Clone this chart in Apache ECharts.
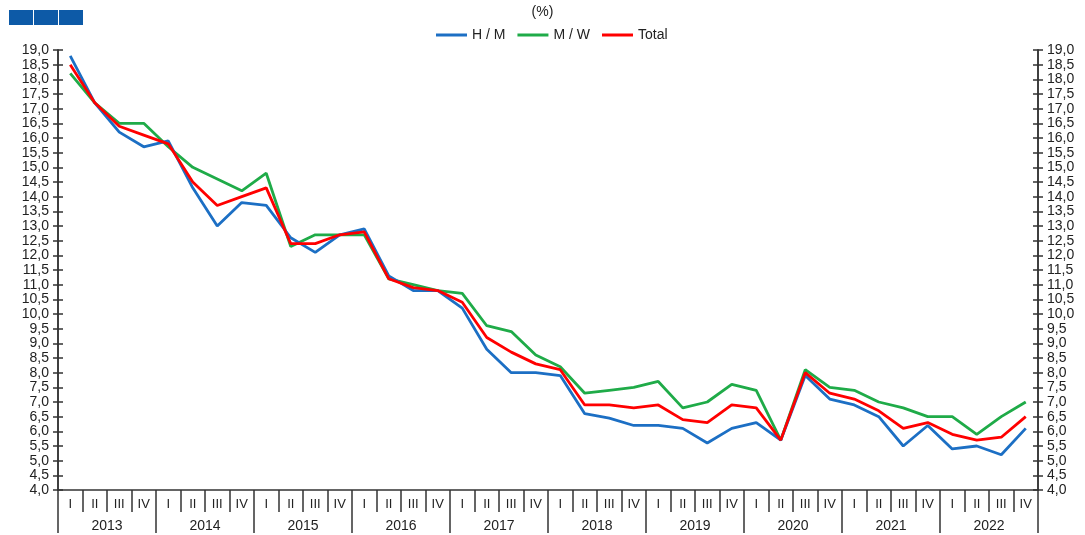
<!DOCTYPE html>
<html>
<head>
<meta charset="utf-8">
<script src="https://cdn.jsdelivr.net/npm/echarts@6/dist/echarts.min.js"></script>
<style>
html,body{margin:0;padding:0;background:#fff;}
#chart{width:1085px;height:535px;}
</style>
</head>
<body>
<div id="chart"></div>
<script>
const quarters = ['I','II','III','IV','I','II','III','IV','I','II','III','IV','I','II','III','IV','I','II','III','IV',
                  'I','II','III','IV','I','II','III','IV','I','II','III','IV','I','II','III','IV','I','II','III','IV'];
const years = ['2013','2014','2015','2016','2017','2018','2019','2020','2021','2022'];
const seriesNames = ['H / M','M / W','Total'];
const hm = [18.8,17.2,16.2,15.7, 15.9,14.3,13.0,13.8, 13.7,12.6,12.1,12.7, 12.9,11.3,10.8,10.8,
            10.2,8.8,8.0,8.0, 7.9,6.6,6.45,6.2, 6.2,6.1,5.6,6.1, 6.3,5.7,7.9,7.1, 6.9,6.5,5.5,6.2, 5.4,5.5,5.2,6.1];
const mw = [18.2,17.2,16.5,16.5, 15.7,15.0,14.6,14.2, 14.8,12.3,12.7,12.7, 12.7,11.2,11.0,10.8,
            10.7,9.6,9.4,8.6, 8.2,7.3,7.4,7.5, 7.7,6.8,7.0,7.6, 7.4,5.7,8.1,7.5, 7.4,7.0,6.8,6.5, 6.5,5.9,6.5,7.0];
const total = [18.5,17.2,16.4,16.1, 15.8,14.5,13.7,14.0, 14.3,12.4,12.4,12.7, 12.8,11.2,10.9,10.8,
            10.4,9.2,8.7,8.3, 8.1,6.9,6.9,6.8, 6.9,6.4,6.3,6.9, 6.8,5.7,8.0,7.3, 7.1,6.7,6.1,6.3, 5.9,5.7,5.8,6.5];
const colors = ['#1c6fc4','#1fab48','#ff0000'];

const chart = echarts.init(document.getElementById('chart'), null, {renderer:'canvas'});
const font = 'Liberation Sans, Arial, sans-serif';
const axisColor = '#333';
const fmt = v => v.toFixed(1).replace('.', ',');

function yAx(pos, inside, showLabel){
  return {
    type:'value', position:pos, min:4, max:19, interval:0.5,
    axisLine:{show:true, lineStyle:{color:axisColor, width:1.5}},
    axisTick:{show:true, inside:inside, length:5, lineStyle:{color:axisColor, width:1.5}},
    splitLine:{show:false},
    axisLabel:{show:showLabel, formatter:fmt, margin:9, color:'#222', fontSize:14, fontFamily:font}
  };
}

chart.setOption({
  backgroundColor:'#fff',
  animation:false,
  color:colors,
  title:{text:'(%)', left:'center', top:0, textStyle:{fontSize:14, fontWeight:'normal', color:'#222', fontFamily:font}},
  legend:{
    top:23, left:431, icon:'rect', itemWidth:31, itemHeight:3, itemGap:12,
    textStyle:{fontSize:14, color:'#222', fontFamily:font},
    data:seriesNames
  },
  graphic:[
    {type:'rect', shape:{x:9, y:10, width:24, height:15}, style:{fill:'#0d5aa7'}},
    {type:'rect', shape:{x:34, y:10, width:24, height:15}, style:{fill:'#0d5aa7'}},
    {type:'rect', shape:{x:59, y:10, width:24, height:15}, style:{fill:'#0d5aa7'}}
  ],
  grid:{left:58, right:47, top:50, bottom:45, containLabel:false},
  xAxis:[
    {
      type:'category', position:'bottom', data:quarters, boundaryGap:true,
      axisLine:{show:true, onZero:false, lineStyle:{color:axisColor, width:1.5}},
      axisTick:{show:true, interval:0, length:22, lineStyle:{color:axisColor, width:1.5}},
      axisLabel:{interval:0, margin:8, color:'#222', fontSize:13, fontFamily:font},
      splitLine:{show:false}
    },
    {
      type:'category', position:'bottom', data:years, boundaryGap:true,
      axisLine:{show:false, onZero:false},
      axisTick:{show:true, interval:0, length:43, lineStyle:{color:axisColor, width:1.5}},
      axisLabel:{interval:0, margin:29, color:'#222', fontSize:14, fontFamily:font},
      splitLine:{show:false}
    }
  ],
  yAxis:[
    yAx('left', false, true),
    yAx('left', true, false),
    yAx('right', false, true),
    yAx('right', true, false)
  ],
  series:[
    {name:seriesNames[0], type:'line', data:hm, xAxisIndex:0, yAxisIndex:0, symbol:'none', lineStyle:{width:2.8, color:colors[0]}, itemStyle:{color:colors[0]}, z:3},
    {name:seriesNames[1], type:'line', data:mw, xAxisIndex:0, yAxisIndex:0, symbol:'none', lineStyle:{width:2.8, color:colors[1]}, itemStyle:{color:colors[1]}, z:2},
    {name:seriesNames[2], type:'line', data:total, xAxisIndex:0, yAxisIndex:0, symbol:'none', lineStyle:{width:2.8, color:colors[2]}, itemStyle:{color:colors[2]}, z:4}
  ]
});
</script>
</body>
</html>
